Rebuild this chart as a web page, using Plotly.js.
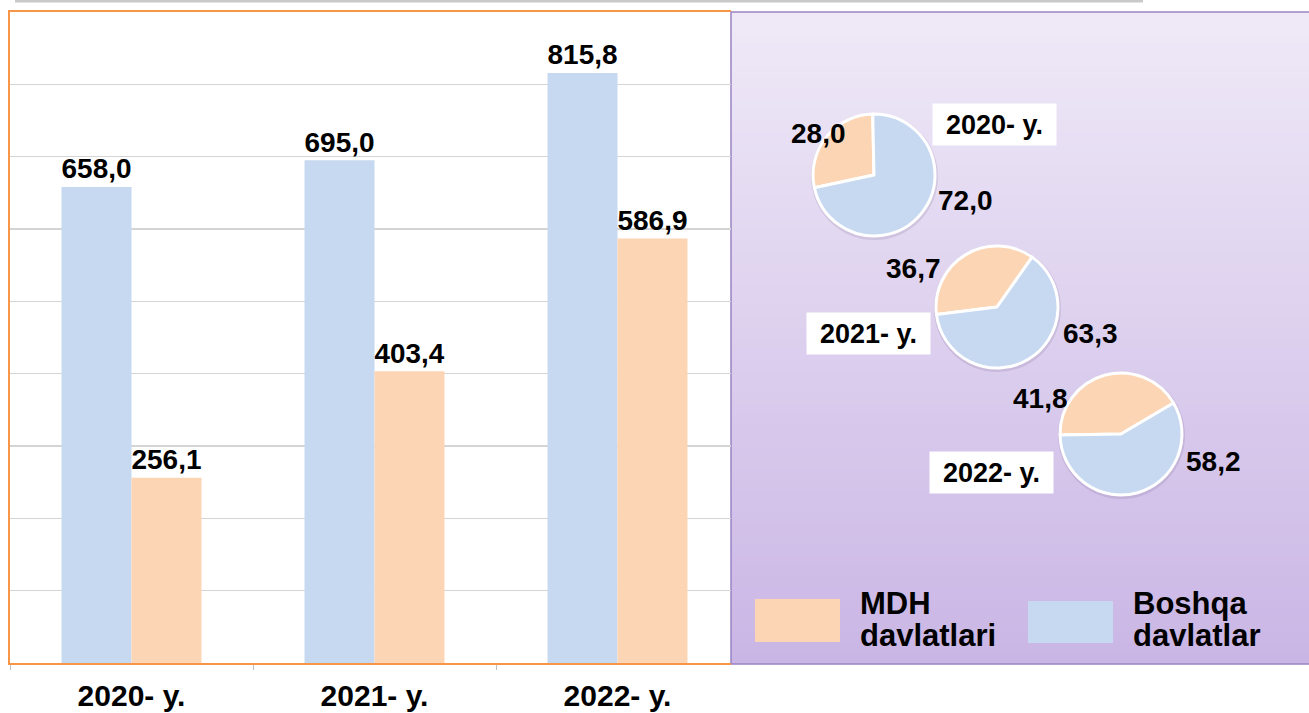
<!DOCTYPE html>
<html><head><meta charset="utf-8">
<script src="https://cdn.plot.ly/plotly-3.0.1.min.js"></script>
<style>html,body{margin:0;padding:0;background:#fff}#chart{width:1309px;height:713px}</style>
</head><body><div id="chart"></div>
<script>
// ---- data ----
const years = ['2020- y.', '2021- y.', '2022- y.'];
const seriesNames = ['MDH davlatlari', 'Boshqa davlatlar'];
const boshqaValues = [658.0, 695.0, 815.8];
const mdhValues = [256.1, 403.4, 586.9];
const mdhShare = [28.0, 36.7, 41.8];
const boshqaShare = [72.0, 63.3, 58.2];

// ---- styling / layout constants ----
const W = 1309, H = 713;
const BLUE = '#C6D9F1', ORANGE = '#FCD5B5', FRAME = '#F79646';
const FONT = 'Liberation Sans, Arial, sans-serif';
const px = x => x / W, py = y => 1 - y / H;

const plotL = 10, plotR = 731, plotT = 12, plotB = 663;
const catW = 243;
const pieGeo = [
  {cx: 874, cy: 175, r: 61, rot: 258, box: [994, 124], lblA: [819, 133], lblB: [965, 200]},
  {cx: 997, cy: 307, r: 61, rot: 263, box: [868, 333], lblA: [914, 268], lblB: [1090, 334]},
  {cx: 1121, cy: 434, r: 61, rot: 269, box: [992, 472], lblA: [1040, 398], lblB: [1213, 461]}
];
const fmt = v => v.toFixed(1).replace('.', ',');

const traces = [
  {type: 'bar', name: seriesNames[1], x: years, y: boshqaValues,
   marker: {color: BLUE}, texttemplate: '%{y:.1f}', textposition: 'outside',
   textfont: {family: FONT, size: 30, color: '#000', weight: 700}, cliponaxis: false, hoverinfo: 'x+y'},
  {type: 'bar', name: seriesNames[0], x: years, y: mdhValues,
   marker: {color: ORANGE}, texttemplate: '%{y:.1f}', textposition: 'outside',
   textfont: {family: FONT, size: 30, color: '#000', weight: 700}, cliponaxis: false, hoverinfo: 'x+y'}
];

const shapes = [];
const annotations = [];

// top gray line
shapes.push({type: 'line', xref: 'paper', yref: 'paper', x0: px(15), x1: px(1143), y0: py(1), y1: py(1),
  line: {color: '#C9C9C9', width: 3}, layer: 'below'});

// purple panel gradient (decoration)
const pT = 12, pB = 664, pL = 731, pR = 1312;
const c0 = [239, 233, 247], c1 = [202, 182, 229];
const N = 60;
for (let i = 0; i < N; i++) {
  const t = i / (N - 1);
  const c = c0.map((v, k) => Math.round(v + (c1[k] - v) * t));
  const y0 = pT + (pB - pT) * i / N, y1 = pT + (pB - pT) * (i + 1) / N + 1;
  shapes.push({type: 'rect', xref: 'paper', yref: 'paper', x0: px(pL), x1: px(pR), y0: py(y0), y1: py(Math.min(y1, pB)),
    fillcolor: `rgb(${c[0]},${c[1]},${c[2]})`, line: {width: 0}, layer: 'below'});
}
shapes.push({type: 'rect', xref: 'paper', yref: 'paper', x0: px(pL), x1: px(pR), y0: py(pT), y1: py(pB),
  fillcolor: 'rgba(0,0,0,0)', line: {color: '#9A84C2', width: 1.5}, layer: 'below'});

const ann = (x, y, text, size, extra) => Object.assign({xref: 'paper', yref: 'paper', x: px(x), y: py(y),
  xanchor: 'center', yanchor: 'middle', text: text, showarrow: false,
  font: {family: FONT, size: size, color: '#000', weight: 700}}, extra || {});

// pies
pieGeo.forEach((g, i) => {
  shapes.push({type: 'circle', xref: 'paper', yref: 'paper',
    x0: px(g.cx - g.r - 2), x1: px(g.cx + g.r + 3), y0: py(g.cy - g.r - 1), y1: py(g.cy + g.r + 4),
    fillcolor: 'rgba(90,70,110,0.14)', line: {width: 0}, layer: 'below'});
  traces.push({type: 'pie', values: [mdhShare[i], boshqaShare[i]], labels: seriesNames,
    sort: false, direction: 'clockwise', rotation: g.rot, textinfo: 'none', showlegend: false,
    marker: {colors: [ORANGE, BLUE], line: {color: '#FFFFFF', width: 3}},
    domain: {x: [px(g.cx - g.r), px(g.cx + g.r)], y: [py(g.cy + g.r), py(g.cy - g.r)]},
    hoverinfo: 'label+value'});
  annotations.push(ann(g.box[0], g.box[1], years[i], 27, {bgcolor: '#FFFFFF', width: 119, height: 37, borderpad: 2}));
  annotations.push(ann(g.lblA[0], g.lblA[1], fmt(mdhShare[i]), 28));
  annotations.push(ann(g.lblB[0], g.lblB[1], fmt(boshqaShare[i]), 28));
});

// custom legend
const legendItems = [
  {name: seriesNames[0], color: ORANGE, sw: [755, 840, 599, 642], tx: 858},
  {name: seriesNames[1], color: BLUE, sw: [1028, 1113, 601, 643], tx: 1131}
];
legendItems.forEach(li => {
  shapes.push({type: 'rect', xref: 'paper', yref: 'paper', x0: px(li.sw[0]), x1: px(li.sw[1]), y0: py(li.sw[2]), y1: py(li.sw[3]),
    fillcolor: li.color, line: {width: 0}, layer: 'below'});
  li.name.split(' ').forEach((p, k) => {
    annotations.push(ann(li.tx, 603 + k * 32, p, 31, {xanchor: 'left'}));
  });
});

const layout = {
  width: W, height: H,
  margin: {l: 0, r: 0, t: 0, b: 0},
  paper_bgcolor: '#FFFFFF', plot_bgcolor: '#FFFFFF',
  separators: ', ',
  showlegend: false,
  barmode: 'group', bargap: 0.424, bargroupgap: 0,
  xaxis: {domain: [px(plotL), px(plotR)], range: [-0.5, -0.5 + (plotR - plotL) / catW], type: 'category',
    showline: true, linecolor: FRAME, linewidth: 2, mirror: true,
    ticks: 'outside', tickson: 'boundaries', ticklen: 5, tickcolor: '#BFBFBF',
    tickfont: {family: FONT, size: 30, color: '#000', weight: 700}, ticklabelstandoff: 5,
    showgrid: false, fixedrange: true},
  yaxis: {domain: [py(plotB), py(plotT)], range: [0, 900], dtick: 100, showticklabels: false,
    showgrid: true, gridcolor: '#D4D4D4', gridwidth: 1.3, zeroline: false,
    showline: true, linecolor: FRAME, linewidth: 2, ticks: '', fixedrange: true},
  shapes: shapes, annotations: annotations
};

Plotly.newPlot('chart', traces, layout, {displayModeBar: false, staticPlot: true});
</script>
</body></html>
